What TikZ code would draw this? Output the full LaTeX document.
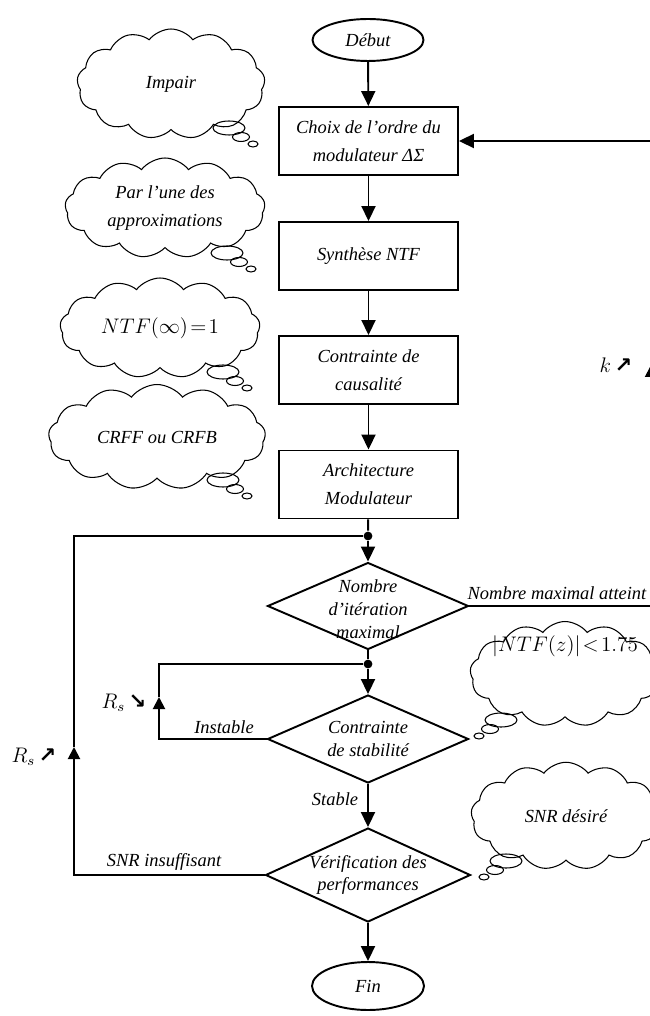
\documentclass[tikz,border=0pt]{standalone}
\usepackage{fontspec}
\setmainfont{Liberation Serif}
\newfontfamily\flechefont{DejaVu Sans}
\usetikzlibrary{shapes.geometric,shapes.symbols,arrows.meta}
\newcommand{\monte}{{\flechefont\bfseries\upshape ↗}}
\newcommand{\descend}{{\flechefont\bfseries\upshape ↘}}
% trois bulles sous un nuage, #3 donne le sens
\newcommand{\bulles}[3]{%
  \draw[bulle] (#1,#2) ellipse [x radius=0.32cm, y radius=0.14cm];
  \draw[bulle] (#1+#3,#2+9) ellipse [x radius=0.17cm, y radius=0.09cm];
  \draw[bulle] (#1+2*#3,#2+16) ellipse [x radius=0.1cm, y radius=0.06cm];}

\begin{document}
\begin{tikzpicture}[x=0.02cm,y=-0.02cm,line width=1.1pt,
  font=\fontsize{10.5}{16}\selectfont\itshape,
  boite/.style={draw,rectangle,minimum width=3.58cm,minimum height=1.36cm,align=center,inner sep=2pt},
  losange/.style={draw,diamond,inner sep=0pt,minimum width=4.02cm},
  terminal/.style={draw,ellipse,minimum width=2.22cm,minimum height=0.84cm,inner sep=0pt},
  point/.style={circle,fill,inner sep=0pt,minimum size=5pt},
  fleche/.style={-{Triangle[length=0.3cm,width=0.28cm]}},
  petite/.style={-{Triangle[length=0.24cm,width=0.24cm]}},
  nuage/.style={draw,cloud,cloud puffs=13,cloud puff arc=105,cloud ignores aspect,line width=0.6pt,inner sep=0pt,align=center},
  bulle/.style={draw,line width=0.6pt},
  dlabel/.style={align=center,font=\fontsize{10.5}{13}\selectfont\itshape}]
\useasboundingbox (0,0) rectangle (649,1016);

% colonne principale
\node[terminal] (debut) at (368,40) {D\'ebut};
\node[boite] (b1) at (368.5,141) {Choix de l’ordre du\\modulateur ΔΣ};
\node[boite] (b2) at (368.5,256) {Synth\`ese NTF};
\node[boite] (b3) at (368.5,370) {Contrainte de\\causalit\'e};
\node[boite] (b4) at (368.5,484.5) {Architecture\\Modulateur};
\node[point] (j1) at (368,536) {};
\node[losange,minimum height=1.74cm,
  label={[dlabel,yshift=-2pt]center:Nombre\\d’it\'eration\\maximal}] (d1) at (368,606) {};
\node[point] (j2) at (368,664) {};
\node[losange,minimum height=1.76cm,
  label={[dlabel]center:Contrainte\\de stabilit\'e}] (d2) at (368,739) {};
\node[losange,minimum width=4.1cm,minimum height=1.88cm,
  label={[dlabel]center:V\'erification des\\performances}] (d3) at (368,875) {};
\node[terminal,minimum width=2.24cm,minimum height=0.96cm] (fin) at (368,986) {Fin};

\draw[fleche] (debut) -- (b1);
\draw[fleche] (b1) -- (b2);
\draw[fleche] (b2) -- (b3);
\draw[fleche] (b3) -- (b4);
\draw (b4) -- (j1);
\draw[fleche] (j1) -- (d1.north);
\draw (d1.south) -- (j2);
\draw[fleche] (j2) -- (d2.north);
\draw[fleche] (d2.south) -- (d3.north);
\draw[fleche] (d3.south) -- (fin);

% boucles de retour
\coordinate (cR1) at (651,606);
\coordinate (cRa) at (651,365);
\coordinate (cR2) at (651,141);
\draw[petite] (d1.east) -- (cR1) -- (cRa);
\draw[fleche] (cRa) -- (cR2) -- (b1.east);

\coordinate (cI1) at (159,739);
\coordinate (cIa) at (159,697);
\coordinate (cI2) at (159,664);
\draw[petite] (d2.west) -- (cI1) -- (cIa);
\draw (cIa) -- (cI2) -- (j2);

\coordinate (cL1) at (74,875);
\coordinate (cLa) at (74,747);
\coordinate (cL2) at (74,536);
\draw[petite] (d3.west) -- (cL1) -- (cLa);
\draw (cLa) -- (cL2) -- (j1);

% etiquettes
\node (lmax) at (557,593) {Nombre maximal atteint};
\node (linst) at (224,727) {Instable};
\node (lstab) at (335,799) {Stable};
\node (lsnr) at (164,862) {SNR insuffisant};
\node[font=\fontsize{12}{14}\selectfont] (lrs1) at (34,757) {$R_s$\,\monte};
\node[font=\fontsize{12}{14}\selectfont] (lrs2) at (124,703) {$R_s$\,\descend};
\node[font=\fontsize{12}{14}\selectfont] (lk) at (616,365) {$k$\,\monte};

% nuages
\node[nuage,minimum width=3.76cm,minimum height=2.2cm] (c1) at (171,84) {Impair};
\bulles{229}{128}{12}
\node[nuage,minimum width=4cm,minimum height=2cm] (c2) at (165,208) {Par l’une des\\approximations};
\bulles{227}{253}{12}
\node[nuage,minimum width=4cm,minimum height=2cm] (c3) at (160,328)
  {\fontsize{13}{15}\selectfont$NTF(\infty)\!=\!1$};
\bulles{223}{372}{12}
\node[nuage,minimum width=4.34cm,minimum height=2.1cm] (c4) at (157,437) {CRFF ou CRFB};
\bulles{223}{480}{12}
\node[nuage,minimum width=3.8cm,minimum height=2.1cm,
  label={[yshift=0.55cm]center:\fontsize{12}{14}\selectfont$\bigl|NTF(z)\bigr|\!<\!1.75$}] (c5) at (565,674) {};
\bulles{501}{720}{-11}
\node[nuage,minimum width=3.8cm,minimum height=2.15cm] (c6) at (566,816) {SNR d\'esir\'e};
\bulles{506}{861}{-11}
\end{tikzpicture}
\end{document}
